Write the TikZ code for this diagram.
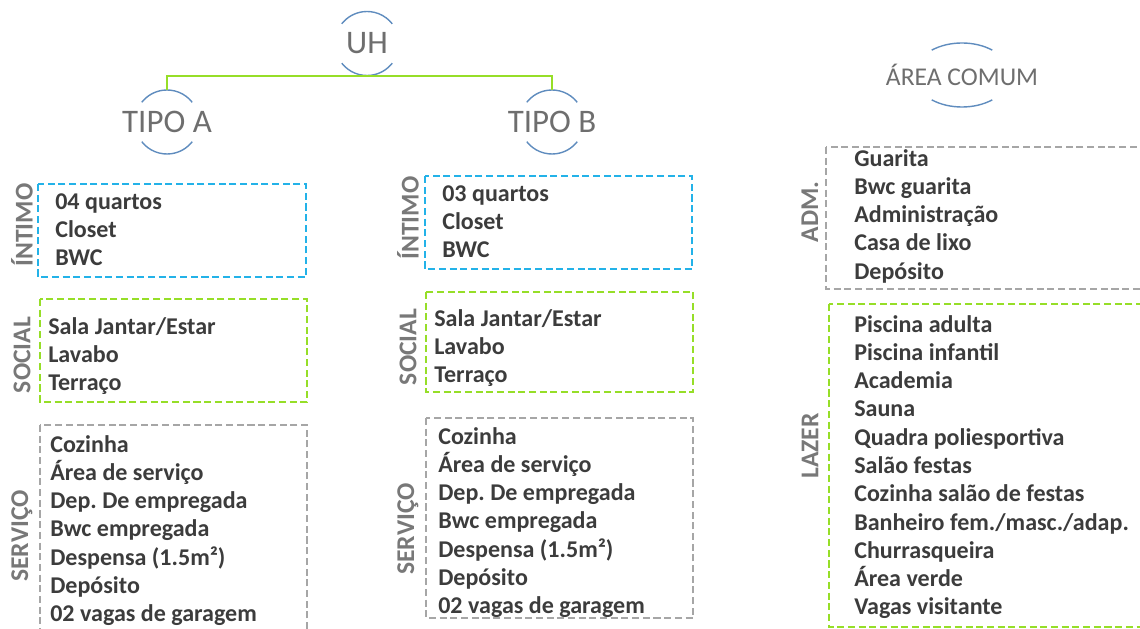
\documentclass[tikz,border=0pt]{standalone}
\usepackage{fontspec}
\setmainfont{Carlito}
\usepackage{tikz}
\frenchspacing
\definecolor{azul}{RGB}{35,178,232}
\definecolor{verde}{RGB}{150,222,40}
\definecolor{cinza}{RGB}{166,166,166}
\definecolor{cortexto}{RGB}{60,60,60}
\definecolor{corrotulo}{RGB}{120,120,120}
\definecolor{cortitulo}{RGB}{110,110,110}
\definecolor{corarco}{RGB}{95,140,190}
\tikzstyle{titulo}=[text=cortitulo, font=\fontsize{23.4}{28}\selectfont, minimum height=1.6cm, inner sep=0]
\tikzstyle{arco}=[draw=corarco, line width=1pt]
\tikzstyle{conector}=[draw=verde, line width=1.2pt]
\tikzstyle{lista}=[text=cortexto, font=\bfseries\fontsize{17.1}{20.1}\selectfont, align=left, anchor=north west, inner sep=0, execute at begin node={\strut}]
\tikzstyle{rotulo}=[text=corrotulo, font=\bfseries\fontsize{18.2}{22}\selectfont, rotate=90, inner sep=0]
\tikzstyle{caixa}=[line width=1.4pt, dash pattern=on 5pt off 2.6pt]

\begin{document}
\begin{tikzpicture}[x=0.025cm, y=-0.025cm]
		   \useasboundingbox (0,0) rectangle (1140,629);
		   \clip (0,0) rectangle (1140,629);
		   \begin{scope}
			   % titulos
			   \node (uh) at (367, 43.5)[titulo] {UH};
			   \node (tipoa) at (167, 122)[titulo] {TIPO A};
			   \node (tipob) at (552, 122)[titulo] {TIPO B};
			   \node (comum) at (962, 75)[titulo, font=\fontsize{18.2}{22}\selectfont] {ÁREA COMUM};

			   % rotulos
			   \node (intA) at (22, 225)[rotulo] {ÍNTIMO};
			   \node (socA) at (22, 355)[rotulo] {SOCIAL};
			   \node (serA) at (22, 536)[rotulo] {SERVIÇO};
			   \node (intB) at (408, 218)[rotulo] {ÍNTIMO};
			   \node (socB) at (408, 347)[rotulo] {SOCIAL};
			   \node (serB) at (408, 529)[rotulo] {SERVIÇO};
			   \node (adm) at (810, 212)[rotulo] {ADM.};
			   \node (lazer) at (810, 446)[rotulo] {LAZER};

			   % listas
			   \node (lintA) at (55, 193)[lista] {04 quartos\\Closet\\BWC};
			   \node (lsocA) at (48, 317)[lista] {Sala Jantar/Estar\\Lavabo\\Terraço};
			   \node (lserA) at (50, 435)[lista] {Cozinha\\Área de serviço\\Dep. De empregada\\Bwc empregada\\Despensa (1.5m²)\\Depósito\\02 vagas de garagem};
			   \node (lintB) at (442, 185)[lista] {03 quartos\\Closet\\BWC};
			   \node (lsocB) at (434, 309)[lista] {Sala Jantar/Estar\\Lavabo\\Terraço};
			   \node (lserB) at (438, 427)[lista] {Cozinha\\Área de serviço\\Dep. De empregada\\Bwc empregada\\Despensa (1.5m²)\\Depósito\\02 vagas de garagem};
			   \node (ladm) at (854, 149)[lista] {Guarita\\Bwc guarita\\Administração\\Casa de lixo\\Depósito};
			   \node (llazer) at (854, 315)[lista] {Piscina adulta\\Piscina infantil\\Academia\\Sauna\\Quadra poliesportiva\\Salão festas\\Cozinha salão de festas\\Banheiro fem./masc./adap.\\Churrasqueira\\Área verde\\Vagas visitante};
		   \end{scope}
		   \begin{scope}
			   % caixas
			   \draw[caixa, azul] (38, 184) rectangle (306, 277);
			   \draw[caixa, verde] (40, 299) rectangle (307, 402);
			   \draw[caixa, cinza] (40, 425) rectangle (307, 650);
			   \draw[caixa, azul] (425, 176) rectangle (692, 269);
			   \draw[caixa, verde] (426, 292) rectangle (693, 392);
			   \draw[caixa, cinza] (426, 418) rectangle (693, 618);
			   \draw[caixa, cinza] (826, 147) rectangle (1160, 289);
			   \draw[caixa, verde] (829, 304) rectangle (1160, 627);

			   % arcos
			   \draw[arco] (uh.center) ++(38:0.8cm) arc[start angle=38, end angle=142, radius=0.8cm];
			   \draw[arco] (uh.center) ++(218:0.8cm) arc[start angle=218, end angle=322, radius=0.8cm];
			   \draw[arco] (tipoa.center) ++(38:0.8cm) arc[start angle=38, end angle=142, radius=0.8cm];
			   \draw[arco] (tipoa.center) ++(218:0.8cm) arc[start angle=218, end angle=322, radius=0.8cm];
			   \draw[arco] (tipob.center) ++(38:0.8cm) arc[start angle=38, end angle=142, radius=0.8cm];
			   \draw[arco] (tipob.center) ++(218:0.8cm) arc[start angle=218, end angle=322, radius=0.8cm];
			   \draw[arco] (comum.center) ++(51:1.2cm and 0.8cm) arc[start angle=51, end angle=129, x radius=1.2cm, y radius=0.8cm];
			   \draw[arco] (comum.center) ++(231:1.2cm and 0.8cm) arc[start angle=231, end angle=309, x radius=1.2cm, y radius=0.8cm];

			   % ligacoes
			   \draw[conector] (tipoa.north) |- (uh.south) -| (tipob.north);
		   \end{scope}
	   \end{tikzpicture}
\end{document}
